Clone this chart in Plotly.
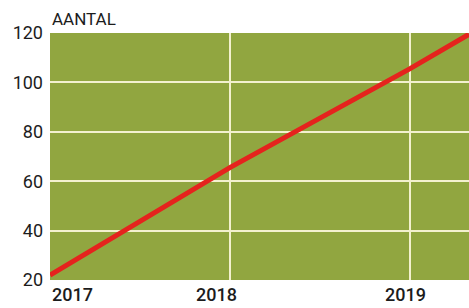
import plotly.graph_objects as go

years = [2017, 2018, 2019, 2019.33]
aantal = [22, 65.5, 105.5, 119.5]
y_ticks = [20, 40, 60, 80, 100, 120]
x_ticks = [2017, 2018, 2019]
x_labels = ["2017", "2018", "2019"]
x_label_shift = [0, -13, -4]
x_label_anchor = ["left", "center", "center"]

green = "#91a640"
grid = "#f3f1cf"

fig = go.Figure()
fig.add_trace(go.Scatter(x=years, y=aantal, mode="lines",
                         line=dict(color="#e5231d", width=5), hoverinfo="skip"))

for xv, lab, sh, anc in zip(x_ticks, x_labels, x_label_shift, x_label_anchor):
    fig.add_annotation(x=xv, y=0, xref="x", yref="paper", text=lab, showarrow=False,
                       xanchor=anc, yanchor="top", xshift=sh, yshift=-2,
                       font=dict(family="Roboto", size=18, color="#1c1c1c", weight=500))

fig.add_annotation(x=0, y=1, xref="paper", yref="paper", text="AANTAL", showarrow=False,
                   xanchor="left", yanchor="bottom", yshift=2,
                   font=dict(family="Roboto", size=17, color="#1c1c1c"))

fig.update_layout(
    width=469, height=308,
    margin=dict(l=50, r=0, t=33, b=28, autoexpand=False),
    paper_bgcolor="white", plot_bgcolor=green,
    showlegend=False,
    xaxis=dict(range=[2017, 2019.33], tickvals=x_ticks[1:], showticklabels=False,
               showgrid=True, gridcolor=grid, gridwidth=1.5, zeroline=False, fixedrange=True),
    yaxis=dict(range=[20, 120], tickvals=y_ticks, ticks="", ticklabelstandoff=6,
               automargin=False, fixedrange=True,
               showgrid=True, gridcolor=grid, gridwidth=1.5, zeroline=False,
               tickfont=dict(family="Roboto", size=18, color="#1c1c1c")),
)
fig.write_html("out.html", config={"displayModeBar": False},
               post_script="document.body.style.margin='0';document.body.style.overflow='hidden';")
